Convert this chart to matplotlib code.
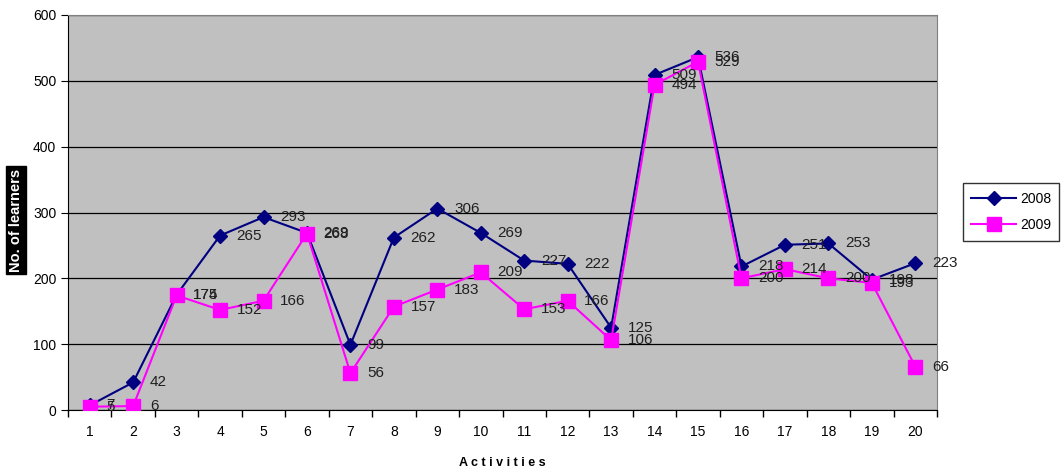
import matplotlib.pyplot as plt
import numpy as np
from matplotlib.ticker import FixedLocator, NullFormatter

activities = list(range(1, 21))
learners_2008 = [7, 42, 175, 265, 293, 269, 99, 262, 306, 269, 227, 222, 125, 509, 536, 218, 251, 253, 198, 223]
learners_2009 = [5, 6, 174, 152, 166, 268, 56, 157, 183, 209, 153, 166, 106, 494, 529, 200, 214, 200, 193, 66]
y_ticks = [0, 100, 200, 300, 400, 500, 600]

plt.rcParams["font.family"] = ["Liberation Sans", "DejaVu Sans"]

fig = plt.figure(figsize=(10.64, 4.72), dpi=100)
ax = fig.add_axes([68 / 1064, 1 - 410 / 472, (937 - 68) / 1064, (410 - 15) / 472])
ax.set_facecolor("#c0c0c0")

ax.plot(activities, learners_2008, color="#000080", marker="D", markersize=7,
        linewidth=1.5, label="2008", zorder=3)
ax.plot(activities, learners_2009, color="#ff00ff", marker="s", markersize=10,
        linewidth=1.5, label="2009", zorder=4)

# value labels to the right of each point
for x, v in zip(activities, learners_2008):
    ax.annotate(str(v), (x, v), xytext=(12, 0), textcoords="offset points",
                va="center", ha="left", fontsize=11, color="#202020", zorder=5)
for x, v in zip(activities, learners_2009):
    ax.annotate(str(v), (x, v), xytext=(12, 0), textcoords="offset points",
                va="center", ha="left", fontsize=11, color="#202020", zorder=5)

ax.set_xlim(0.5, 20.5)
ax.set_ylim(0, 600)
ax.set_yticks(y_ticks)
ax.yaxis.grid(True, color="black", linewidth=0.9)
ax.set_axisbelow(True)

ax.set_xticks(activities)
ax.tick_params(axis="x", which="major", length=0, pad=11, labelsize=10)
ax.xaxis.set_minor_locator(FixedLocator(np.arange(0.5, 21, 1)))
ax.xaxis.set_minor_formatter(NullFormatter())
ax.tick_params(axis="x", which="minor", length=5, direction="out", width=1)
ax.tick_params(axis="y", length=5, direction="out", labelsize=10)

for side in ("top", "right"):
    ax.spines[side].set_color("#808080")
ax.spines["left"].set_color("black")
ax.spines["bottom"].set_color("black")

fig.text((68 + 937) / 2 / 1064, 1 - 463 / 472, "A c t i v i t i e s",
         fontsize=9, fontweight="bold", ha="center", va="center")

fig.text(16 / 1064, 1 - 220 / 472, "No. of learners", rotation=90, color="white",
         fontsize=10.5, fontweight="bold", ha="center", va="center",
         bbox=dict(facecolor="black", edgecolor="black", boxstyle="square,pad=0.2"))

leg = fig.legend(loc="center left", bbox_to_anchor=(956 / 1064, 1 - 212 / 472),
                 fontsize=10, frameon=True, fancybox=False, borderpad=0.6,
                 handlelength=3.2, labelspacing=0.9, handletextpad=0.3)
leg.get_frame().set_edgecolor("black")
leg.get_frame().set_linewidth(1)

fig.savefig("out.png", dpi=100)
